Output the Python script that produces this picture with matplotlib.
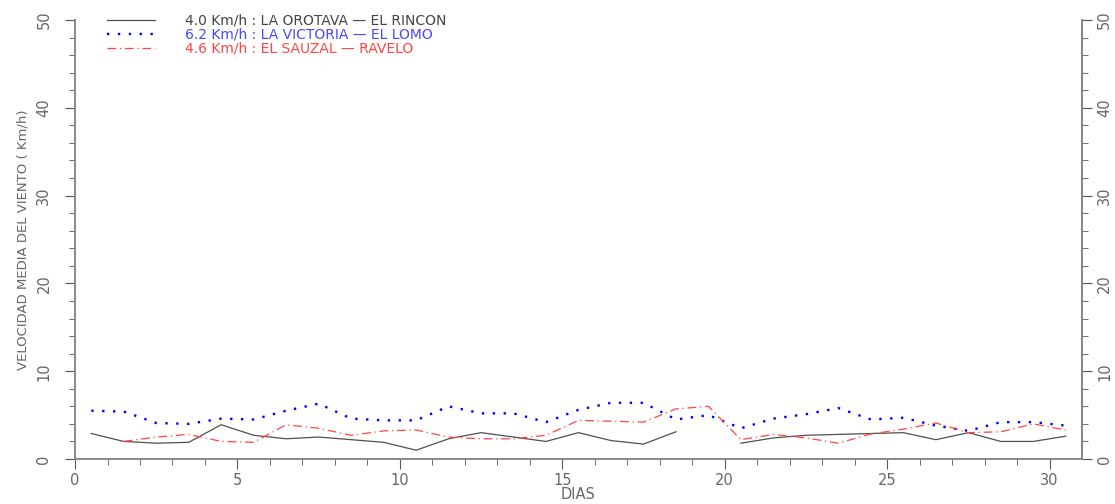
import numpy as np
import matplotlib.pyplot as plt

# Days (mid-day positions)
dias = np.arange(1, 32) - 0.5

# Daily mean wind speed (km/h), nan = no data
orotava = [2.9, 2.0, 1.8, 1.9, 3.9, 2.7, 2.3, 2.5, 2.2, 1.9,
           1.0, 2.3, 3.0, 2.5, 2.0, 3.0, 2.1, 1.7, 3.1, np.nan,
           1.8, 2.4, 2.7, 2.8, 2.9, 3.0, 2.2, 3.0, 2.0, 2.0, 2.6]
victoria = [5.5, 5.4, 4.1, 4.0, 4.6, 4.5, 5.5, 6.3, 4.6, 4.4,
            4.4, 6.0, 5.2, 5.2, 4.2, 5.6, 6.4, 6.4, 4.5, 5.0,
            3.5, 4.6, 5.1, 5.8, 4.5, 4.7, 3.8, 3.2, 4.2, 4.2, 3.8]
sauzal = [np.nan, 2.0, 2.5, 2.8, 2.0, 1.9, 3.9, 3.5, 2.7, 3.2,
          3.3, 2.5, 2.3, 2.3, 2.7, 4.4, 4.3, 4.2, 5.7, 6.0,
          2.2, 2.8, 2.4, 1.8, 2.85, 3.4, 4.1, 3.0, 3.1, 4.0, 3.3]

labels = ["4.0 Km/h : LA OROTAVA \u2014 EL RINCON",
          "6.2 Km/h : LA VICTORIA \u2014 EL LOMO",
          "4.6 Km/h : EL SAUZAL \u2014 RAVELO"]
colors = ["#505050", "#0000ff", "#ff4545"]
text_colors = ["#444444", "#4848ff", "#ff4545"]

fig = plt.figure(figsize=(11.15, 5.04), dpi=100)
ax = fig.add_axes([0.0673, 0.0893, 0.9031, 0.871])

ax.plot(dias, orotava, color=colors[0], lw=0.9, ls="-", label=labels[0])
ax.plot(dias, victoria, color=colors[1], lw=1.7, ls=(0, (1, 3.6)), label=labels[1])
ax.plot(dias, sauzal, color=colors[2], lw=0.9, ls=(0, (7, 3, 1, 3)), label=labels[2])

ax.set_xlim(0, 31)
ax.set_ylim(0, 50)

axis_col = "#888888"
tick_col = "#555555"
lab_col = "#666666"
for s in ["left", "right", "bottom"]:
    ax.spines[s].set_color(axis_col)
    ax.spines[s].set_linewidth(1.4)
ax.spines["top"].set_visible(False)

ax.set_xticks([0, 5, 10, 15, 20, 25, 30])
ax.set_xticks(np.arange(0, 31), minor=True)
ax.set_yticks(np.arange(0, 51, 10))
ax.set_yticks(np.arange(0, 51, 2), minor=True)

ax.tick_params(axis="x", which="major", direction="out", length=7, color=tick_col,
               labelsize=10.5, labelcolor=lab_col, pad=3)
ax.tick_params(axis="x", which="minor", direction="out", length=4, color=tick_col)
ax.tick_params(axis="y", which="major", direction="out", length=7, color=tick_col,
               labelsize=10.5, labelcolor=lab_col, labelrotation=90, pad=10)
ax.tick_params(axis="y", which="minor", direction="out", length=4, color=tick_col)
for t in ax.yaxis.get_major_ticks():
    t.label1.set_va("center")

# right-hand axis with the same scale
ax2 = ax.twinx()
ax2.set_ylim(0, 50)
ax2.set_yticks(np.arange(0, 51, 10))
ax2.set_yticks(np.arange(0, 51, 2), minor=True)
for s in ["left", "top", "bottom"]:
    ax2.spines[s].set_visible(False)
ax2.spines["right"].set_color(axis_col)
ax2.spines["right"].set_linewidth(1.4)
ax2.tick_params(axis="y", which="major", direction="out", length=7, color=tick_col,
                labelsize=10.5, labelcolor=lab_col, labelrotation=90, pad=4)
ax2.tick_params(axis="y", which="minor", direction="out", length=4, color=tick_col)
for t in ax2.yaxis.get_major_ticks():
    t.label2.set_va("center")

ax.set_xlabel("DIAS", fontsize=10.5, color=lab_col)
ax.xaxis.set_label_coords(0.4995, -0.080)
ax.xaxis.label.set_va("center")
ax.set_ylabel("VELOCIDAD MEDIA DEL VIENTO ( Km/h)", fontsize=9.5, color=lab_col)
ax.yaxis.set_label_coords(-0.0516, 0.5)
ax.yaxis.label.set_va("center")

leg = ax.legend(loc="upper left", bbox_to_anchor=(0.0318, 1.0137), frameon=False,
                fontsize=10, handlelength=3.45, handletextpad=2.16, labelspacing=0.0,
                borderpad=0, borderaxespad=0)
for txt, c in zip(leg.get_texts(), text_colors):
    txt.set_color(c)

fig.savefig("out.png", dpi=100)
